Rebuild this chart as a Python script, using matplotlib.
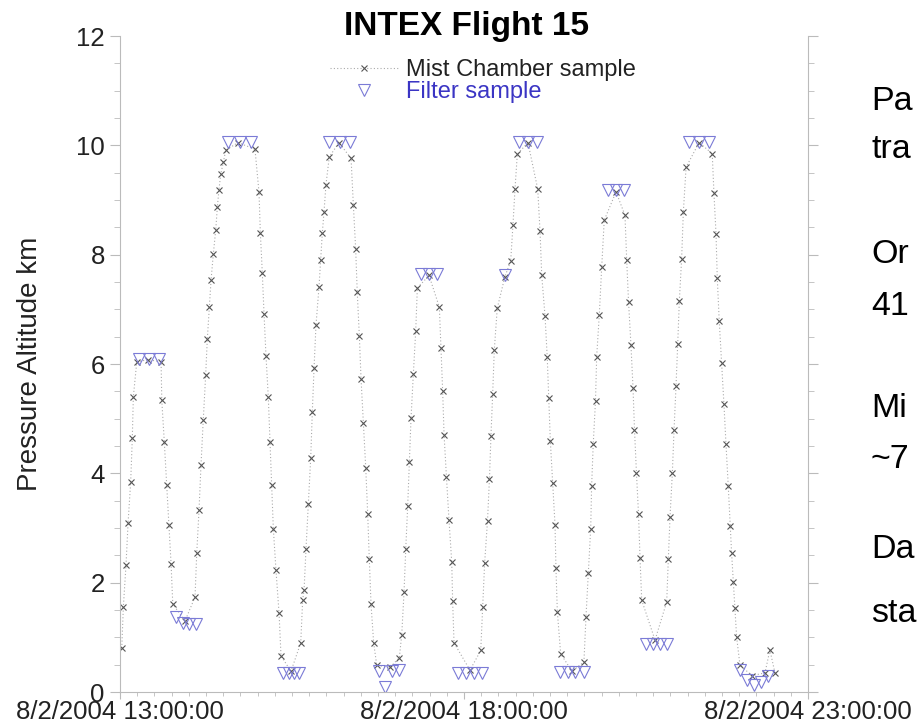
import numpy as np
import matplotlib
matplotlib.use('Agg')
import matplotlib.pyplot as plt
import matplotlib.dates as mdates
from matplotlib.ticker import MultipleLocator

plt.rcParams['font.family'] = ['Liberation Sans', 'DejaVu Sans']

# Mist chamber samples: minutes after 8/2/2004 13:00:00, pressure altitude (km)
mist_min = [1.5, 2.9, 5.2, 7.0, 9.3, 10.7, 11.6, 14.6, 24.4, 35.8,
            36.4, 38.6, 40.7, 42.7, 44.5, 46.0, 56.7,
            65.4, 66.9, 68.9, 70.6, 72.6, 74.7, 76.1, 77.9, 79.4, 81.4, 83.5, 84.9,
            86.3, 87.8, 90.1, 92.2, 102.9, 117.7,
            121.2, 122.4, 124.1, 125.6, 127.3, 129.3, 130.8, 132.3, 133.7, 136.0,
            138.7, 140.4, 149.1,
            157.6, 159.3, 160.5, 162.2, 164.2, 166.3, 167.7, 169.2, 170.9, 173.5,
            175.0, 176.4, 177.9, 179.6, 182.5, 191.0, 201.5,
            203.5, 205.5, 206.9, 208.7, 210.2, 212.2, 214.3, 216.0, 217.4, 218.9,
            221.2, 223.9, 235.5,
            243.6, 245.7, 247.7, 249.2, 250.9, 252.3, 253.8, 255.8, 257.9, 259.3, 269.5,
            278.5, 279.9, 281.4, 282.6, 284.7, 286.9, 289.3, 290.1, 291.3, 305.2,
            314.6, 316.3, 318.0, 320.5, 322.2, 323.5, 325.0, 326.4, 329.0, 335.7,
            340.7, 342.7, 344.5, 346.5, 355.8,
            364.3, 366.3, 367.8, 370.7, 372.6, 373.9, 375.3, 377.3, 379.4, 380.2,
            381.4, 384.3, 394.2,
            404.6, 406.4, 408.4, 410.5, 411.3, 412.7, 414.7, 415.7, 418.0, 420.1,
            422.3, 432.6,
            440.4, 441.9, 443.5, 445.6, 447.4, 448.7, 450.4, 452.2, 453.5, 455.0, 466.6,
            476.8, 478.2, 479.7, 481.7, 483.2, 484.9, 486.4, 487.8, 489.8, 491.3,
            493.7, 505.0,
            516.5, 518.0, 519.8, 520.9, 522.6, 524.7, 526.7, 528.5, 530.5, 532.2,
            533.4, 534.9, 536.3, 537.8, 540.7, 551.2,
            562.5, 566.8, 571.2]
mist_alt = [0.80, 1.56, 2.32, 3.09, 3.85, 4.64, 5.40, 6.04, 6.08, 6.04,
            5.34, 4.58, 3.79, 3.05, 2.35, 1.61, 1.30,
            1.74, 2.54, 3.33, 4.15, 4.98, 5.80, 6.45, 7.04, 7.54, 8.02, 8.46, 8.88,
            9.19, 9.47, 9.69, 9.91, 10.05, 9.93,
            9.14, 8.39, 7.66, 6.91, 6.15, 5.40, 4.58, 3.79, 2.99, 2.23,
            1.44, 0.66, 0.38,
            0.90, 1.69, 1.86, 2.62, 3.44, 4.28, 5.12, 5.92, 6.71, 7.40,
            7.91, 8.39, 8.78, 9.28, 9.79, 10.05, 9.76,
            8.91, 8.11, 7.31, 6.52, 5.73, 4.92, 4.10, 3.26, 2.43, 1.61,
            0.90, 0.49, 0.45,
            0.63, 1.05, 1.83, 2.62, 3.41, 4.20, 5.01, 5.81, 6.61, 7.39, 7.62,
            7.04, 6.29, 5.50, 4.71, 3.93, 3.15, 2.38, 1.66, 0.90, 0.40,
            0.76, 1.56, 2.36, 3.13, 3.90, 4.68, 5.45, 6.25, 7.02, 7.60,
            7.88, 8.54, 9.21, 9.84, 10.05,
            9.20, 8.43, 7.62, 6.87, 6.12, 5.37, 4.59, 3.83, 3.05, 2.26,
            1.47, 0.70, 0.38,
            0.55, 1.38, 2.18, 2.99, 3.76, 4.53, 5.33, 6.13, 6.90, 7.77,
            8.63, 9.15,
            8.72, 7.90, 7.14, 6.35, 5.57, 4.80, 4.01, 3.26, 2.46, 1.68, 0.95,
            1.65, 2.43, 3.21, 4.00, 4.80, 5.59, 6.37, 7.15, 7.92, 8.78,
            9.60, 10.05,
            9.85, 9.12, 8.38, 7.57, 6.79, 6.01, 5.27, 4.53, 3.76, 3.04,
            2.54, 2.02, 1.53, 1.00, 0.49, 0.30,
            0.35, 0.77, 0.35]

# Filter samples
filter_min = [16.6, 25.3, 34.0,
              48.8, 54.9, 60.2, 66.3,
              94.2, 104.6, 114.2,
              142.2, 147.4, 151.7, 156.1,
              182.3, 191.9, 200.6,
              225.9, 231.1, 237.2, 243.3,
              262.3, 269.5, 276.4,
              294.8, 301.7, 308.7, 315.7,
              335.7,
              348.0, 355.8, 363.7,
              383.7, 390.7, 396.8, 404.6,
              425.6, 432.6, 439.6,
              458.7, 464.8, 470.9, 477.0,
              496.2, 505.0, 513.7,
              540.7, 546.8, 552.9, 559.0, 565.1]
filter_alt = [6.10, 6.10, 6.10,
              1.38, 1.26, 1.25, 1.25,
              10.06, 10.06, 10.06,
              0.35, 0.35, 0.35, 0.35,
              10.06, 10.06, 10.06,
              0.38, 0.10, 0.38, 0.40,
              7.65, 7.65, 7.65,
              0.35, 0.35, 0.35, 0.35,
              7.63,
              10.07, 10.07, 10.07,
              0.36, 0.36, 0.36, 0.36,
              9.18, 9.18, 9.18,
              0.88, 0.88, 0.88, 0.88,
              10.07, 10.07, 10.07,
              0.40, 0.22, 0.12, 0.18, 0.30]

# text of the slide that sits to the right of the chart (cut off)
side_text = ['Pa', 'tra', 'Or', '41', 'Mi', '~7', 'Da', 'sta']
side_y = [110, 158, 263, 315, 417, 468, 558, 622]

start = np.datetime64('2004-08-02T13:00:00')


def to_time(minutes):
    secs = np.round(np.array(minutes) * 60).astype(int)
    return start + secs.astype('timedelta64[s]')


fig = plt.figure(figsize=(9.17, 7.26), dpi=100)
ax = fig.add_axes([0.1309, 0.0468, 0.7502, 0.9036])

ax.plot(to_time(mist_min), mist_alt, linestyle=(0, (1, 2)), color='#aaaaaa', lw=0.8,
        marker='x', ms=4.5, mec='#555555', mew=0.8, label='Mist Chamber sample')
ax.plot(to_time(filter_min), filter_alt, linestyle='none', marker='v', ms=9,
        mfc='none', mec='#7b7bd6', mew=0.8, label='Filter sample')

ax.set_xlim(start, start + np.timedelta64(10, 'h'))
ax.set_ylim(0, 12)
ax.xaxis.set_major_locator(mdates.HourLocator(byhour=[13, 18, 23]))
ax.xaxis.set_minor_locator(mdates.MinuteLocator(byminute=[0, 15, 30, 45]))
ax.xaxis.set_major_formatter(mdates.DateFormatter('%-m/%-d/%Y %H:%M:%S'))
ax.yaxis.set_major_locator(MultipleLocator(2))
ax.yaxis.set_minor_locator(MultipleLocator(0.5))

for s in ['left', 'right', 'bottom']:
    ax.spines[s].set_color('#bbbbbb')
ax.spines['top'].set_visible(False)
ax.tick_params(which='both', direction='out', color='#bbbbbb', right=True,
               labelright=False, labelsize=18.5, labelcolor='#222222')
ax.tick_params(axis='y', which='major', length=7, pad=4)
ax.tick_params(axis='y', which='minor', length=4)
ax.tick_params(axis='x', which='major', length=5, pad=0.5)
ax.tick_params(axis='x', which='minor', length=3)

ax.set_ylabel('Pressure Altitude km', fontsize=20, color='#222222')
ax.yaxis.set_label_coords(-0.112, 0.5)
fig.text(467 / 917, 1 - 35 / 726, 'INTEX Flight 15', fontsize=24,
         fontweight='bold', ha='center', va='baseline')

leg = ax.legend(loc='upper left', bbox_to_anchor=(330 / 917, 1 - 59 / 726),
                bbox_transform=fig.transFigure, frameon=False, fontsize=17,
                handlelength=2.9, handletextpad=0.3, labelspacing=0.0,
                borderpad=0, borderaxespad=0)
leg.get_texts()[0].set_color('#222222')
leg.get_texts()[1].set_color('#3b35c4')

for txt, yy in zip(side_text, side_y):
    fig.text(871 / 917, 1 - yy / 726, txt, fontsize=24.5, va='baseline', ha='left')

fig.savefig('out.png', dpi=100)
